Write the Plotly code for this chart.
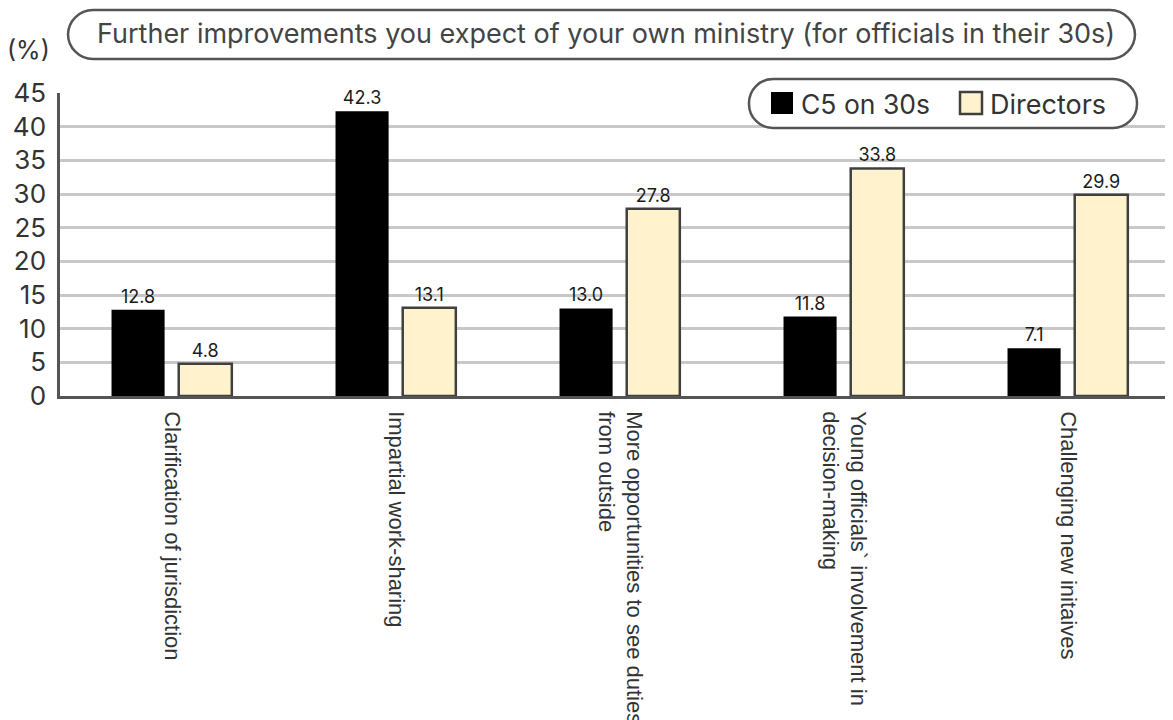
import plotly.graph_objects as go

categories = [
    "Clarification of jurisdiction",
    "Impartial work-sharing",
    "More opportunities to see duties<br>from outside",
    "Young officials` involvement in<br>decision-making",
    "Challenging new initaives",
]
series_names = ["C5 on 30s", "Directors"]
c5_values = [12.8, 42.3, 13.0, 11.8, 7.1]
directors_values = [4.8, 13.1, 27.8, 33.8, 29.9]
y_ticks = [0, 5, 10, 15, 20, 25, 30, 35, 40, 45]
title_text = "Further improvements you expect of your own ministry (for officials in their 30s)"

# page body has an 8px margin; work in page pixel coordinates and convert
OFF = 8
W, H = 1173 - OFF, 720 - OFF
L, T, B = 60, 93, 396          # page coordinates of plot area
PW, PH = 1173 - L, B - T

def px(x):
    return (x - L) / PW

def py(y):
    return (B - y) / PH

def rounded_rect(x0, y0, x1, y1, r):
    k = 0.5523 * r
    pts = [
        ("M", [(x0 + r, y0)]),
        ("L", [(x1 - r, y0)]),
        ("C", [(x1 - r + k, y0), (x1, y0 + r - k), (x1, y0 + r)]),
        ("L", [(x1, y1 - r)]),
        ("C", [(x1, y1 - r + k), (x1 - r + k, y1), (x1 - r, y1)]),
        ("L", [(x0 + r, y1)]),
        ("C", [(x0 + r - k, y1), (x0, y1 - r + k), (x0, y1 - r)]),
        ("L", [(x0, y0 + r)]),
        ("C", [(x0, y0 + r - k), (x0 + r - k, y0), (x0 + r, y0)]),
    ]
    s = ""
    for cmd, ps in pts:
        s += cmd + " " + " ".join(f"{px(a):.5f},{py(b):.5f}" for a, b in ps) + " "
    return s + "Z"

FONT = "Inter, Lato, sans-serif"
LABEL_FONT = "Liberation Sans, Arial, sans-serif"

fig = go.Figure()
fig.add_trace(go.Bar(
    x=categories, y=c5_values, name=series_names[0],
    marker=dict(color="#000000", line=dict(width=0)),
    width=0.237, offset=-0.27,
    text=[f"{v:.1f}" for v in c5_values], textposition="outside",
    textfont=dict(family=FONT, size=18, color="#1a1a1a"),
    cliponaxis=False, showlegend=False,
))
fig.add_trace(go.Bar(
    x=categories, y=directors_values, name=series_names[1],
    marker=dict(color="#FFF2CC", line=dict(width=2.5, color="#404040")),
    width=0.237, offset=0.03,
    text=[f"{v:.1f}" for v in directors_values], textposition="outside",
    textfont=dict(family=FONT, size=18, color="#1a1a1a"),
    cliponaxis=False, showlegend=False,
))

shapes = [
    dict(type="path", xref="paper", yref="paper", path=rounded_rect(68, 10, 1135, 59, 25),
         line=dict(color="#555555", width=2.5), fillcolor="white", layer="above"),
    dict(type="path", xref="paper", yref="paper", path=rounded_rect(749, 79, 1137, 128, 24),
         line=dict(color="#555555", width=2.5), fillcolor="white", layer="above"),
    dict(type="rect", xref="paper", yref="paper", x0=px(771), x1=px(793), y0=py(114), y1=py(92),
         fillcolor="#000000", line=dict(width=0), layer="above"),
    dict(type="rect", xref="paper", yref="paper", x0=px(960), x1=px(982), y0=py(114), y1=py(92),
         fillcolor="#FFF2CC", line=dict(width=2.5, color="#404040"), layer="above"),
]

annotations = [
    dict(text=title_text, xref="paper", yref="paper", x=px(606), y=py(34),
         xanchor="center", yanchor="middle", showarrow=False,
         font=dict(family=FONT, size=27, color="#444444")),
    dict(text="(%)", xref="paper", yref="paper", x=px(28), y=py(50),
         xanchor="center", yanchor="middle", showarrow=False,
         font=dict(family=FONT, size=25, color="#333333")),
    dict(text=series_names[0], xref="paper", yref="paper", x=px(799), y=py(104),
         xanchor="left", yanchor="middle", showarrow=False,
         font=dict(family=FONT, size=26.5, color="#333333")),
    dict(text=series_names[1], xref="paper", yref="paper", x=px(988), y=py(104),
         xanchor="left", yanchor="middle", showarrow=False,
         font=dict(family=FONT, size=27, color="#333333")),
]

fig.update_layout(
    width=W, height=H,
    margin=dict(l=L - OFF, r=0, t=T - OFF, b=H - (B - OFF), pad=0, autoexpand=False),
    paper_bgcolor="white", plot_bgcolor="white",
    barmode="group",
    shapes=shapes, annotations=annotations,
    showlegend=False,
    xaxis=dict(
        range=[-0.5, -0.5 + PW / 224.0],
        tickangle=90, ticks="", showgrid=False, automargin=False,
        tickfont=dict(family=LABEL_FONT, size=22, color="#333333"),
        showline=True, linecolor="#555555", linewidth=2.5,
        ticklabelstandoff=8,
    ),
    yaxis=dict(
        range=[0, 45], tickvals=y_ticks, ticktext=[str(v) for v in y_ticks],
        showgrid=True, gridcolor="#C8C8C8", gridwidth=2.5, automargin=False,
        zeroline=False, showline=True, linecolor="#555555", linewidth=2.5,
        ticks="", ticklabelstandoff=6,
        tickfont=dict(family=FONT, size=26, color="#333333"),
    ),
)

fig.write_html("out.html")
